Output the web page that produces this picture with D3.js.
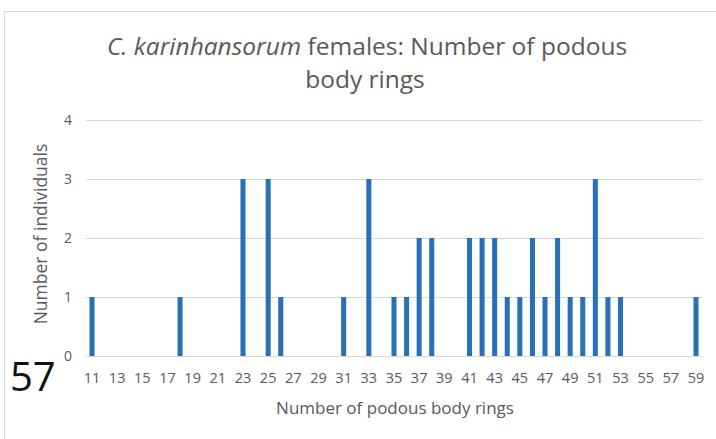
<!DOCTYPE html>
<html>
<head>
<meta charset="utf-8">
<script src="https://cdn.jsdelivr.net/npm/d3@7"></script>
<style>
  body { margin: 0; background: #fff; }
  svg { display: block; }
  text { font-family: "Open Sans", "Noto Sans", sans-serif; fill: #595959; }
</style>
</head>
<body>
<div id="chart"></div>
<script>
// number of podous body rings observed, and how many females had each
var rings = [11, 18, 23, 25, 26, 31, 33, 35, 36, 37, 38, 41, 42, 43, 44, 45, 46, 47, 48, 49, 50, 51, 52, 53, 59];
var counts = [1, 1, 3, 3, 1, 1, 3, 1, 1, 2, 2, 2, 2, 2, 1, 1, 2, 1, 2, 1, 1, 3, 1, 1, 1];
var yTicks = [0, 1, 2, 3, 4];

var width = 716, height = 439;

// every ring number from 11 to 59 is a category, odd ones get labels
var categories = d3.range(11, 60);
var data = rings.map((r, i) => ({ ring: r, n: counts[i] }));

var svg = d3.select('#chart').append('svg')
    .attr('width', width)
    .attr('height', height);

// chart frame
svg.append('rect')
    .attr('x', 4.5).attr('y', 11.5)
    .attr('width', width + 10).attr('height', height + 10)
    .attr('fill', 'none')
    .attr('stroke', '#d9d9d9');

var x = d3.scaleBand()
    .domain(categories)
    .range([85.7, 702.3])
    .paddingInner(0.6)
    .paddingOuter(0.3);

var y = d3.scaleLinear()
    .domain([0, 4])
    .range([356, 120]);

// gridlines
svg.append('g')
    .selectAll('line')
    .data(yTicks)
    .enter().append('line')
    .attr('x1', 85.7).attr('x2', 702.3)
    .attr('y1', d => Math.round(y(d)) + 0.5)
    .attr('y2', d => Math.round(y(d)) + 0.5)
    .attr('stroke', '#d9d9d9')
    .attr('stroke-width', 1);

// bars
svg.append('g')
    .selectAll('rect')
    .data(data)
    .enter().append('rect')
    .attr('x', d => x(d.ring))
    .attr('y', d => y(d.n))
    .attr('width', x.bandwidth())
    .attr('height', d => y(0) - y(d.n))
    .attr('fill', '#2a70b8');

// y axis labels
var yAxis = d3.axisLeft(y).tickValues(yTicks).tickFormat(d3.format('d')).tickSize(0).tickPadding(0);
svg.append('g')
    .attr('transform', 'translate(72,0)')
    .call(yAxis)
    .call(g => g.select('.domain').remove())
    .selectAll('text')
    .style('font-size', '14px')
    .style('fill', '#595959');

// x axis labels
var xAxis = d3.axisBottom(x)
    .tickValues(categories.filter(d => d % 2 == 1))
    .tickSize(0).tickPadding(0);
svg.append('g')
    .attr('transform', 'translate(0,373)')
    .call(xAxis)
    .call(g => g.select('.domain').remove())
    .selectAll('text')
    .style('font-size', '14.5px')
    .style('fill', '#595959');

// title
var title = svg.append('text')
    .attr('text-anchor', 'middle')
    .style('font-size', '24.5px');
var l1 = title.append('tspan').attr('x', 367).attr('y', 55);
l1.append('tspan').style('font-style', 'italic').text('C. karinhansorum');
l1.append('tspan').text(' females: Number of podous');
title.append('tspan').attr('x', 365).attr('y', 88).text('body rings');

// axis titles
svg.append('text')
    .attr('x', 395).attr('y', 414)
    .attr('text-anchor', 'middle')
    .style('font-size', '17px')
    .text('Number of podous body rings');

svg.append('text')
    .attr('transform', 'translate(47,234) rotate(-90)')
    .attr('text-anchor', 'middle')
    .style('font-size', '17.5px')
    .text('Number of individuals');

// figure number
svg.append('text')
    .attr('x', 10).attr('y', 391)
    .style('font-size', '40px')
    .style('fill', '#111')
    .text('57');
</script>
</body>
</html>
